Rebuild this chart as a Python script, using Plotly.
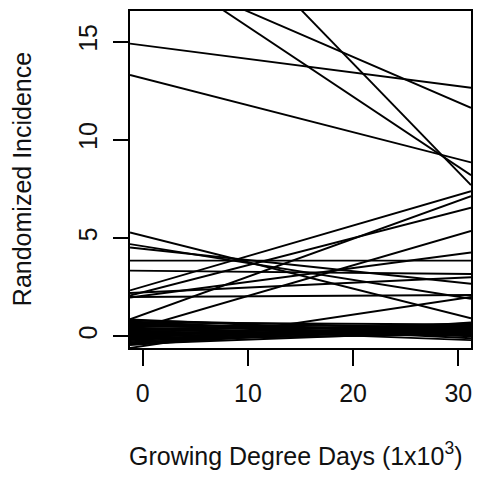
import plotly.graph_objects as go

# Fitted lines: value at left edge (GDD = -1.2) and at right edge (GDD = 31.2), in 1x10^3 GDD
GDD_START = -1.2
GDD_END = 31.2

upper_start = [14.9, 13.3, 19.76, 19.13, 25.6]
upper_end = [12.65, 8.85, 8.2, 11.63, 7.7]

mid_start = [3.85, 5.28, 4.69, 4.52, 3.34, 2.33, 2.07, 1.97, 0.86, 2.2, 0.3, 2.0, -0.6]
mid_end = [3.85, 0.91, 1.91, 2.67, 3.17, 7.38, 6.54, 4.26, 7.13, 3.0, 5.36, 2.1, 2.0]

band_start = [0.85, 0.8, 0.75, 0.7, 0.65, 0.6, 0.55, 0.5, 0.45, 0.4, 0.35, 0.3, 0.25,
              0.2, 0.15, 0.1, 0.05, 0.0, -0.05, -0.1, -0.15, -0.2, -0.25, -0.3,
              -0.35, -0.4, -0.45]
band_end = [0.1, 0.4, -0.1, 0.6, 0.2, 0.0, 0.5, 0.3, -0.2, 0.45, 0.15, 0.55, 0.35,
            0.05, 0.25, 0.65, 0.4, 0.2, 0.5, 0.3, 0.1, 0.6, 0.45, 0.35, 0.55, 0.25, 0.7]

x_ticks = [0, 10, 20, 30]
y_ticks = [0, 5, 10, 15]

starts = upper_start + mid_start + band_start
ends = upper_end + mid_end + band_end

xs, ys = [], []
for s, e in zip(starts, ends):
    xs += [GDD_START, GDD_END, None]
    ys += [s, e, None]

fig = go.Figure()
fig.add_trace(go.Scatter(x=xs, y=ys, mode="lines",
                         line=dict(color="black", width=1.9), showlegend=False,
                         hoverinfo="skip"))

font = dict(family="Arial, Liberation Sans, sans-serif", size=25, color="#111111")

fig.update_layout(
    width=474, height=470,
    margin=dict(l=122, r=11, t=1, b=130),
    paper_bgcolor="white", plot_bgcolor="white",
    font=font,
    xaxis=dict(range=[GDD_START, GDD_END], tickvals=x_ticks, ticks="outside", ticklen=16,
               tickwidth=1.5, tickcolor="black", showline=True, linecolor="black",
               linewidth=1.5, mirror=True, showgrid=False, zeroline=False,
               ticklabelstandoff=6),
    yaxis=dict(range=[-0.6, 16.56], tickvals=y_ticks, ticks="outside", ticklen=15,
               tickwidth=1.5, tickcolor="black", showline=True, linecolor="black",
               linewidth=1.5, mirror=True, showgrid=False, zeroline=False,
               tickangle=-90, ticklabelstandoff=6),
    annotations=[
        dict(text="Growing Degree Days (1x10<sup>3</sup>)", xref="paper", yref="paper",
             x=0.484, y=-0.3156, xanchor="center", yanchor="middle", showarrow=False,
             font=font),
        dict(text="Randomized Incidence", xref="paper", yref="paper",
             x=-0.3167, y=0.501, xanchor="center", yanchor="middle", showarrow=False,
             textangle=-90, font=font),
    ],
)

fig.write_html("out.html")
